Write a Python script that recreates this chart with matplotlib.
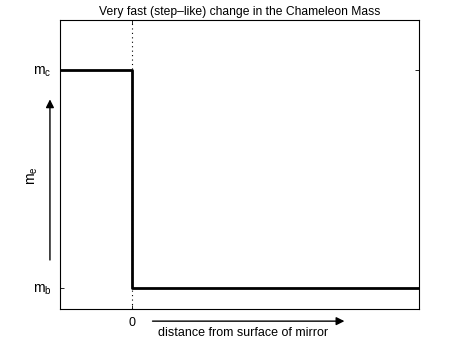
import matplotlib.pyplot as plt

plt.rcParams['font.family'] = ['Liberation Sans', 'DejaVu Sans']
plt.rcParams['mathtext.default'] = 'regular'

# step profile of the chameleon mass
x_vals = [-1, 0, 0, 4]
m_c = 0.827
m_b = 0.073
y_vals = [m_c, m_c, m_b, m_b]
tick_labels = ['$m_b$', '$m_c$']

fig = plt.figure(figsize=(4.63, 3.49), dpi=100)
ax = fig.add_axes([60 / 463, 1 - 309 / 349, 359 / 463, 289 / 349])

ax.plot([0, 0], [0, 1], color='k', linestyle=(0, (1, 3)), linewidth=0.8)
ax.plot(x_vals, y_vals, color='k', linewidth=2)

ax.set_xlim(-1, 4)
ax.set_ylim(0, 1)
ax.set_xticks([0])
ax.set_xticklabels(['0'], fontsize=9)
ax.set_yticks([m_b, m_c])
ax.set_yticklabels(tick_labels, fontsize=10)
ax.tick_params(direction='in', length=3, width=0.6, top=True, right=True, pad=6)
for s in ax.spines.values():
    s.set_linewidth(0.8)

ax.set_title('Very fast (step\u2013like) change in the Chameleon Mass', fontsize=8.7, pad=3.5)

# axis arrows
ax.annotate('', xy=(-0.028, 0.735), xytext=(-0.028, 0.16), xycoords='axes fraction',
            arrowprops=dict(arrowstyle='-|>', lw=1, color='k', mutation_scale=12))
ax.annotate('', xy=(0.80, -0.042), xytext=(0.25, -0.042), xycoords='axes fraction',
            arrowprops=dict(arrowstyle='-|>', lw=1, color='k', mutation_scale=12))
fig.text(33 / 463, 1 - 176 / 349, '$m_e$', rotation=90, fontsize=10, ha='center', va='center')
fig.text(243 / 463, 1 - 333 / 349, 'distance from surface of mirror', fontsize=9,
         ha='center', va='center')

fig.savefig('out.png', dpi=100)
